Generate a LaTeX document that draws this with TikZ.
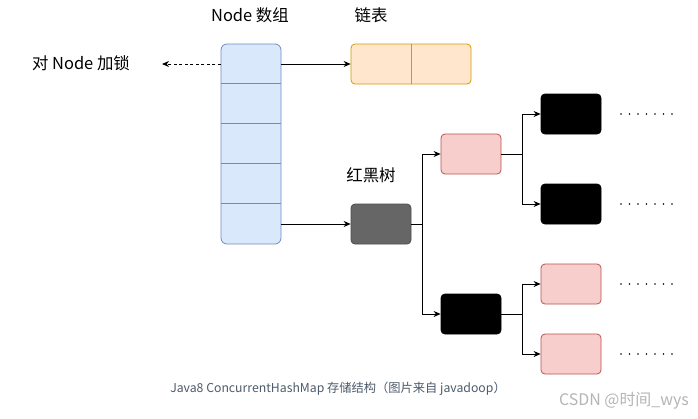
\documentclass[tikz,border=0pt]{standalone}
\usepackage{fontspec}
\setmainfont{Noto Sans CJK SC}
\usetikzlibrary{arrows.meta}

\definecolor{arrfill}{HTML}{DAE8FC}
\definecolor{arrline}{HTML}{6C8EBF}
\definecolor{listfill}{HTML}{FFE6CC}
\definecolor{listline}{HTML}{D79B00}
\definecolor{redfill}{HTML}{F8CECC}
\definecolor{redline}{HTML}{B85450}
\definecolor{rootfill}{HTML}{666666}
\definecolor{rootline}{HTML}{4D4D4D}
\definecolor{captext}{HTML}{4D5B6B}
\definecolor{marktext}{HTML}{B5B5B5}

\begin{document}
\begin{tikzpicture}[x=1bp,y=-1bp,
    arrbox/.style={draw=arrline,fill=arrfill,rounded corners=6bp,line width=0.8bp,minimum width=60bp,minimum height=200bp},
    cell/.style={minimum width=60bp,minimum height=40bp,inner sep=0},
    box/.style={minimum width=60bp,minimum height=40bp,rounded corners=4bp,line width=0.8bp,inner sep=0},
    redbox/.style={box,draw=redline,fill=redfill},
    blackbox/.style={box,draw=black,fill=black},
    link/.style={-{Stealth[length=7bp,width=6bp]},line width=0.8bp},
    lbl/.style={font=\fontsize{16.5}{19}\selectfont}]
  \useasboundingbox[fill=white] (0,0) rectangle (698,418);

  % node array
  \node[arrbox] (arr) at (251,144) {};
  \foreach \i in {0,...,4}
    \node[cell] (c\i) at (251,{64+40*\i}) {};
  \foreach \i in {1,...,4}
    \draw[arrline,line width=0.8bp] (c\i.north west) -- (c\i.north east);
  \node[lbl] (arrtitle) at (250,15) {Node 数组};

  % lock
  \node[lbl] (lock) at (81,63) {对 Node 加锁};
  \coordinate (lockend) at (162,64);
  \draw[link,dash pattern=on 3bp off 2.5bp] (c0.west) -- (lockend);

  % linked list
  \node[box,draw=listline,fill=listfill,minimum width=120bp] (list) at (411,64) {};
  \draw[listline,line width=0.8bp] (list.north) -- (list.south);
  \node[lbl] (listtitle) at (371,15) {链表};
  \draw[link] (c0.east) -- (list.west);

  % red-black tree
  \node[box,draw=rootline,fill=rootfill] (root) at (381,224) {};
  \node[lbl] (treetitle) at (371,175) {红黑树};
  \draw[link] (c4.east) -- (root.west);

  \node[redbox] (r1) at (471,154) {};
  \node[blackbox] (b1) at (471,314) {};
  \node[blackbox] (b2) at (571,114) {};
  \node[blackbox] (b3) at (571,204) {};
  \node[redbox] (r2) at (571,284) {};
  \node[redbox] (r3) at (571,354) {};

  \draw[link] (root.east) -- ++(11,0) |- (r1.west);
  \draw[link] (root.east) -- ++(11,0) |- (b1.west);
  \draw[link] (r1.east) -- ++(21,0) |- (b2.west);
  \draw[link] (r1.east) -- ++(21,0) |- (b3.west);
  \draw[link] (b1.east) -- ++(21,0) |- (r2.west);
  \draw[link] (b1.east) -- ++(21,0) |- (r3.west);

  % more nodes
  \foreach \y in {114,204,284,354}
    \foreach \k in {0,...,6}
      \fill (621+8.5*\k,\y) circle (0.9bp);

  % caption
  \node[text=captext,font=\fontsize{12.3}{14}\selectfont] (caption) at (338,389)
    {Java8 ConcurrentHashMap 存储结构（图片来自 javadoop）};
  \node[text=marktext,font=\fontsize{16}{19}\selectfont] (mark) at (624,401) {CSDN @时间\_wys};
\end{tikzpicture}
\end{document}
